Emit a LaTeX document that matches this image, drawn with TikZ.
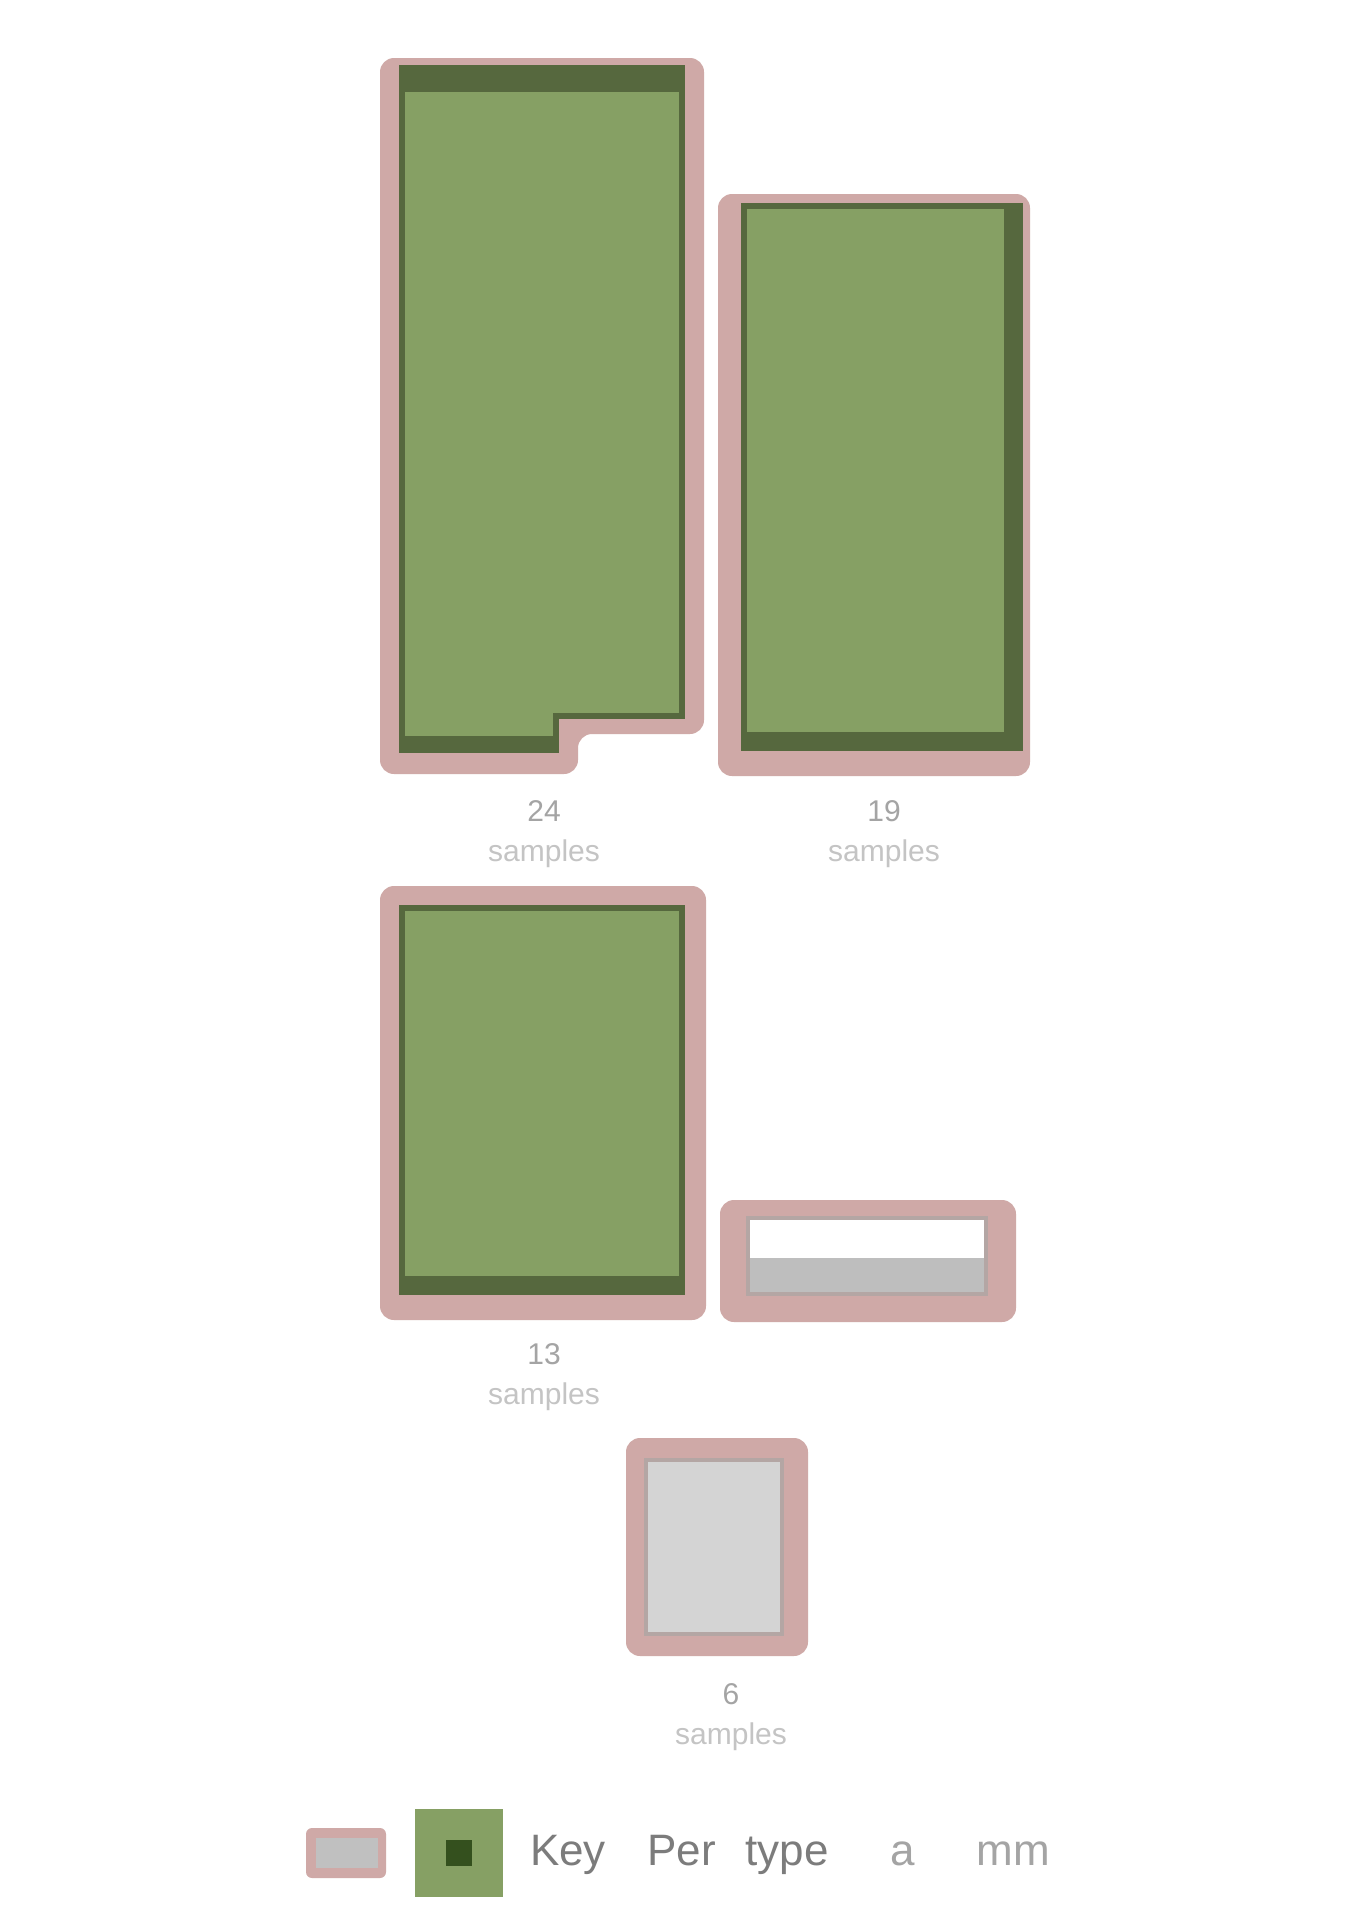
\documentclass[tikz,border=0pt]{standalone}
\usepackage{fontspec}
\setmainfont{Liberation Sans}
\definecolor{boxgreen}{HTML}{86A064}
\definecolor{boxdark}{HTML}{56683E}
\definecolor{framepink}{HTML}{CFA9A7}
\definecolor{framelight}{HTML}{E8D0CE}
\definecolor{boxgray}{HTML}{D4D4D4}
\definecolor{graystroke}{HTML}{B4A6A4}
\definecolor{barmid}{HTML}{BEBEBE}
\definecolor{lblone}{HTML}{A4A4A4}
\definecolor{lbltwo}{HTML}{C4C4C4}
\definecolor{legtext}{HTML}{7C7C7C}
\definecolor{legdark}{HTML}{34501E}
\definecolor{swgray}{HTML}{C0C0C0}
\begin{document}
\begin{tikzpicture}[x=1pt,y=-1pt,
  frame/.style={fill=framepink,rounded corners=14pt},
  greenbox/.style={fill=boxgreen,draw=boxdark,line width=6pt,line join=miter},
  gbox/.style={rectangle,fill=boxgreen,draw=boxdark,line width=6pt,inner sep=0pt,outer sep=0pt},
  band/.style={fill=boxdark},
  graybox/.style={rectangle,fill=boxgray,draw=graystroke,line width=4pt,inner sep=0pt,outer sep=0pt},
  whitebox/.style={rectangle,fill=white,draw=graystroke,line width=4pt,inner sep=0pt,outer sep=0pt},
  lbl/.style={align=center,inner sep=0pt,font=\fontsize{30}{40}\selectfont},
  legend/.style={inner sep=0pt,anchor=base,font=\fontsize{44}{50}\selectfont,text=legtext},
]
\useasboundingbox (0,0) rectangle (1358,1920);
\fill[white] (0,0) rectangle (1358,1920);

% ---- frames (behind the boxes)
\fill[frame] (380,58) -- (704,58) -- (704,734) -- (578,734) -- (578,774) -- (380,774) -- cycle;
\fill[frame] (718,194) rectangle (1030,776);
\fill[frame] (380,886) rectangle (706,1320);
\fill[frame] (720,1200) rectangle (1016,1322);
\fill[frame] (626,1438) rectangle (808,1656);

% ---- box A (notched)
\draw[greenbox] (402,68) -- (682,68) -- (682,716) -- (556,716) -- (556,750) -- (402,750) -- cycle;
\fill[band] (402,68) rectangle (682,92);
\fill[band] (402,736) rectangle (556,750);
\coordinate (A) at (542,409);

% ---- box B
\node[gbox,minimum width=276pt,minimum height=542pt] (B) at (882,477) {};
\fill[band] (1004,206) rectangle (1020,748);
\fill[band] (744,732) rectangle (1020,748);

% ---- box C
\node[gbox,minimum width=280pt,minimum height=384pt] (C) at (542,1100) {};
\fill[band] (402,1276) rectangle (682,1292);

% ---- box D (short, white with grey bar)
\node[whitebox,minimum width=238pt,minimum height=76pt] (D) at (867,1256) {};
\node[rectangle,fill=barmid,inner sep=0pt,minimum width=234pt,minimum height=34pt] (Dbar) at (867,1275) {};

% ---- box E (grey)
\node[graybox,minimum width=136pt,minimum height=174pt] (E) at (714,1547) {};

% ---- labels under boxes
\node[lbl] (la) at (544,834) {{\color{lblone}24}\\{\color{lbltwo}samples}};
\node[lbl] (lb) at (884,834) {{\color{lblone}19}\\{\color{lbltwo}samples}};
\node[lbl] (lc) at (544,1377) {{\color{lblone}13}\\{\color{lbltwo}samples}};
\node[lbl] (le) at (731,1717) {{\color{lblone}6}\\{\color{lbltwo}samples}};

% ---- legend
\fill[frame,rounded corners=6pt] (306,1828) rectangle (386,1878);
\node[rectangle,fill=swgray,inner sep=0pt,minimum width=62pt,minimum height=30pt] (sw1) at (347,1853) {};
\node[rectangle,fill=boxgreen,inner sep=0pt,minimum size=88pt] (sw2) at (459,1853) {};
\node[rectangle,fill=legdark,inner sep=0pt,minimum size=26pt] (sw2c) at (459,1853) {};
\node[legend] (t1) at (568,1865) {Key};
\node[legend] (t2) at (738,1865) {Per\hspace{30pt}type};
\node[legend,text=lblone] (t3) at (970,1865) {a\hspace{62pt}mm};
\end{tikzpicture}
\end{document}
